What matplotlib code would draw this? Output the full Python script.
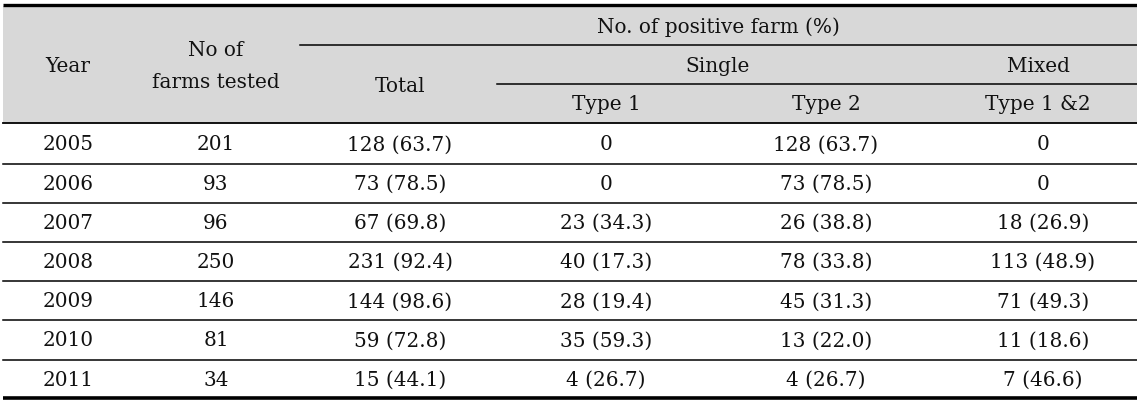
import matplotlib
matplotlib.use('Agg')
from matplotlib import pyplot as plt

years = ['2005', '2006', '2007', '2008', '2009', '2010', '2011']
tested = ['201', '93', '96', '250', '146', '81', '34']
total = ['128 (63.7)', '73 (78.5)', '67 (69.8)', '231 (92.4)', '144 (98.6)', '59 (72.8)', '15 (44.1)']
type1 = ['0', '0', '23 (34.3)', '40 (17.3)', '28 (19.4)', '35 (59.3)', '4 (26.7)']
type2 = ['128 (63.7)', '73 (78.5)', '26 (38.8)', '78 (33.8)', '45 (31.3)', '13 (22.0)', '4 (26.7)']
mixed = ['0', '0', '18 (26.9)', '113 (48.9)', '71 (49.3)', '11 (18.6)', '7 (46.6)']

W, H = 1137, 410
fig = plt.figure(figsize=(W/100, H/100), dpi=100)
ax = fig.add_axes([0, 0, 1, 1])
ax.set_xlim(0, W)
ax.set_ylim(H, 0)
ax.axis('off')

fs = 14.4
font = dict(family='DejaVu Serif', fontsize=fs, ha='center', va='center', color='#111111')

left, right = 3, W
# header background
ax.add_patch(plt.Rectangle((left, 7), right-left, 117, color='#d8d8d8', lw=0, zorder=0))
# rules
ax.plot([left, right], [6, 6], c='k', lw=2.4, solid_capstyle='butt')
ax.plot([300, right], [46, 46], c='k', lw=1.1)
ax.plot([497, right], [85, 85], c='k', lw=1.1)
ax.plot([left, right], [124, 124], c='k', lw=1.3)
row_y = [145 + 39.2*i for i in range(len(years))]
for i in range(len(years)-1):
    y = (row_y[i] + row_y[i+1]) / 2
    ax.plot([left, right], [y, y], c='k', lw=1.1)
ax.plot([left, right], [399, 399], c='k', lw=2.6, solid_capstyle='butt')

# header text
ax.text(68, 66, 'Year', **font)
ax.text(216, 50, 'No of', **font)
ax.text(216, 82, 'farms tested', **font)
ax.text(718, 27, 'No. of positive farm (%)', **font)
ax.text(400, 86, 'Total', **font)
ax.text(718, 66, 'Single', **font)
ax.text(1038, 66, 'Mixed', **font)
ax.text(606, 105, 'Type 1', **font)
ax.text(826, 105, 'Type 2', **font)
ax.text(1038, 105, 'Type 1 &2', **font)

cols_x = [68, 216, 400, 606, 826, 1043]
for i, y in enumerate(row_y):
    for x, col in zip(cols_x, [years, tested, total, type1, type2, mixed]):
        ax.text(x, y, col[i], **font)

fig.savefig('out.png', dpi=100)
